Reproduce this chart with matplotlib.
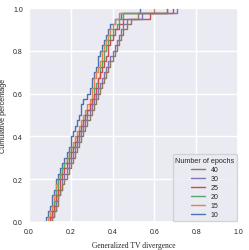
import numpy as np
import matplotlib
matplotlib.use("Agg")
import matplotlib.pyplot as plt
import seaborn as sns

# ── データ（各エポック数ごとの TV divergence 値） ──────────────────────────
epochs = [10, 15, 20, 25, 30, 40]
tv_10 = [0.08, 0.09, 0.10, 0.11, 0.11, 0.12, 0.13, 0.13, 0.14, 0.15,
         0.16, 0.17, 0.18, 0.19, 0.20, 0.20, 0.21, 0.22, 0.23, 0.24,
         0.25, 0.25, 0.26, 0.28, 0.29, 0.30, 0.30, 0.31, 0.32, 0.33,
         0.33, 0.34, 0.35, 0.36, 0.37, 0.38, 0.39, 0.41, 0.44, 0.53]
tv_15 = [0.09, 0.10, 0.11, 0.12, 0.12, 0.13, 0.13, 0.14, 0.15, 0.16,
         0.17, 0.18, 0.19, 0.20, 0.21, 0.22, 0.23, 0.24, 0.25, 0.26,
         0.27, 0.28, 0.29, 0.30, 0.30, 0.31, 0.31, 0.32, 0.33, 0.34,
         0.35, 0.35, 0.36, 0.37, 0.38, 0.39, 0.40, 0.41, 0.43, 0.60]
tv_20 = [0.10, 0.11, 0.12, 0.12, 0.13, 0.13, 0.14, 0.14, 0.15, 0.16,
         0.17, 0.18, 0.19, 0.20, 0.22, 0.23, 0.24, 0.25, 0.26, 0.27,
         0.28, 0.29, 0.30, 0.31, 0.31, 0.32, 0.33, 0.34, 0.34, 0.35,
         0.36, 0.36, 0.37, 0.38, 0.39, 0.40, 0.42, 0.43, 0.45, 0.66]
tv_25 = [0.10, 0.11, 0.12, 0.13, 0.13, 0.14, 0.15, 0.15, 0.16, 0.17,
         0.18, 0.19, 0.20, 0.21, 0.22, 0.23, 0.24, 0.25, 0.26, 0.27,
         0.28, 0.29, 0.30, 0.31, 0.32, 0.33, 0.33, 0.34, 0.35, 0.36,
         0.37, 0.38, 0.38, 0.39, 0.40, 0.41, 0.43, 0.45, 0.58, 0.69]
tv_30 = [0.11, 0.12, 0.13, 0.13, 0.14, 0.15, 0.16, 0.16, 0.17, 0.18,
         0.19, 0.20, 0.21, 0.22, 0.23, 0.24, 0.25, 0.26, 0.27, 0.28,
         0.29, 0.30, 0.31, 0.32, 0.33, 0.34, 0.35, 0.36, 0.37, 0.38,
         0.39, 0.40, 0.41, 0.42, 0.43, 0.44, 0.45, 0.47, 0.54, 0.71]
tv_40 = [0.11, 0.12, 0.13, 0.14, 0.14, 0.15, 0.16, 0.17, 0.18, 0.19,
         0.20, 0.21, 0.22, 0.23, 0.24, 0.25, 0.26, 0.27, 0.28, 0.29,
         0.30, 0.31, 0.32, 0.33, 0.34, 0.35, 0.36, 0.37, 0.38, 0.39,
         0.40, 0.41, 0.42, 0.43, 0.44, 0.45, 0.47, 0.49, 0.52, 0.66]
series = [tv_10, tv_15, tv_20, tv_25, tv_30, tv_40]

sns.set_theme(style="darkgrid")
plt.rcParams["font.family"] = ["Liberation Sans", "DejaVu Sans"]
colors = sns.color_palette("deep", 6)

fig = plt.figure(figsize=(2.49, 2.51), dpi=100)
ax = fig.add_axes([0.116, 0.112, 0.840, 0.852])

handles = []
for ep, vals, c in zip(epochs, series, colors):
    v = np.sort(np.asarray(vals))
    n = len(v)
    x = np.r_[-1.0, v]
    y = np.r_[0.0, np.arange(1, n + 1) / n]
    h, = ax.step(x, y, where="post", color=c, lw=1.0, label=str(ep))
    handles.append(h)

ax.set_xlim(0, 1)
ax.set_ylim(0, 1)
ticks = [0.0, 0.2, 0.4, 0.6, 0.8, 1.0]
ax.set_xticks(ticks)
ax.set_yticks(ticks)
ax.tick_params(labelsize=5, length=0, pad=4.3)
ax.set_xlabel("Generalized TV divergence", fontsize=5.5,
              family=["Liberation Serif", "DejaVu Serif"])
ax.set_ylabel("Cumulative percentage", fontsize=5.2)
# ラベル位置（軸座標で固定）
ax.xaxis.set_label_coords(0.5, -0.089)
ax.yaxis.set_label_coords(-0.105, 0.5)

leg = ax.legend(handles[::-1], [h.get_label() for h in handles[::-1]],
                title="Number of epochs", loc="lower right",
                fontsize=5, title_fontsize=5.2, handlelength=2.0,
                labelspacing=0.3, borderpad=0.4, borderaxespad=0.1)

fig.savefig("out.png", dpi=100)
